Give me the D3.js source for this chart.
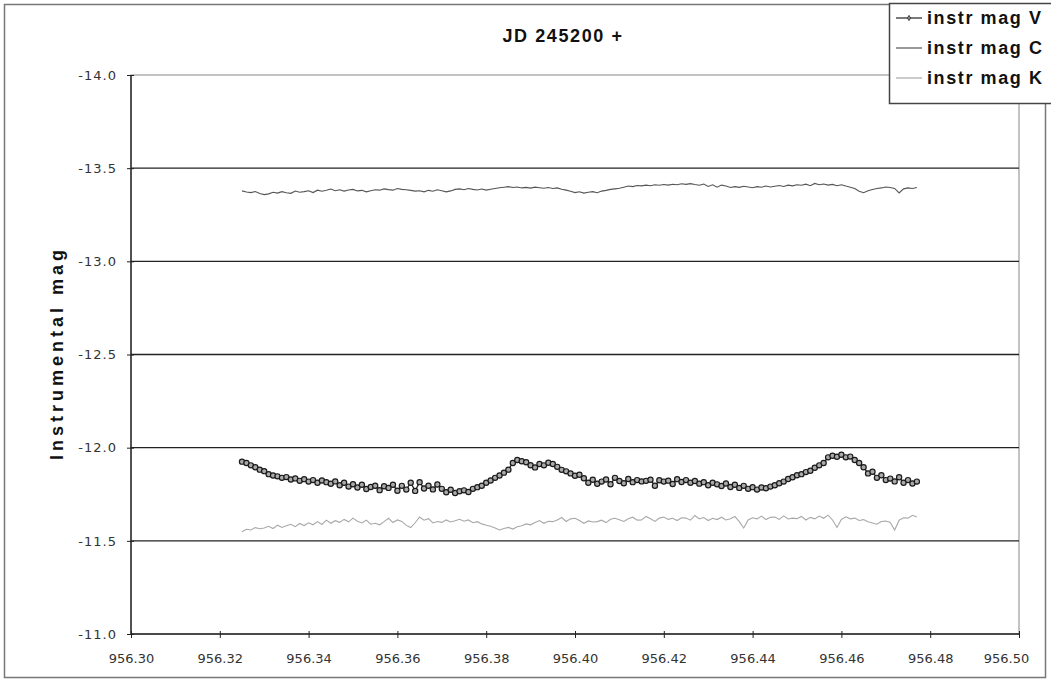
<!DOCTYPE html>
<html><head><meta charset="utf-8">
<script src="https://cdn.jsdelivr.net/npm/d3@7"></script>
<style>body{margin:0;background:#fff}svg{display:block}</style>
</head><body>
<svg id="c" width="1051" height="682"></svg>
<script>
const times = [956.325,956.326,956.327,956.328,956.329,956.330,956.331,956.332,956.333,956.334,
956.335,956.336,956.337,956.338,956.339,956.340,956.341,956.342,956.343,956.344,
956.345,956.346,956.347,956.348,956.349,956.350,956.351,956.352,956.353,956.354,
956.355,956.356,956.357,956.358,956.359,956.360,956.361,956.362,956.363,956.364,
956.365,956.366,956.367,956.368,956.369,956.370,956.371,956.372,956.373,956.374,
956.375,956.376,956.377,956.378,956.379,956.380,956.381,956.382,956.383,956.384,
956.385,956.386,956.387,956.388,956.389,956.390,956.391,956.392,956.393,956.394,
956.395,956.396,956.397,956.398,956.399,956.400,956.401,956.402,956.403,956.404,
956.405,956.406,956.407,956.408,956.409,956.410,956.411,956.412,956.413,956.414,
956.415,956.416,956.417,956.418,956.419,956.420,956.421,956.422,956.423,956.424,
956.425,956.426,956.427,956.428,956.429,956.430,956.431,956.432,956.433,956.434,
956.435,956.436,956.437,956.438,956.439,956.440,956.441,956.442,956.443,956.444,
956.445,956.446,956.447,956.448,956.449,956.450,956.451,956.452,956.453,956.454,
956.455,956.456,956.457,956.458,956.459,956.460,956.461,956.462,956.463,956.464,
956.465,956.466,956.467,956.468,956.469,956.470,956.471,956.472,956.473,956.474,
956.475,956.476,956.477];

const magV = [-11.925,-11.918,-11.905,-11.895,-11.882,-11.874,-11.858,-11.851,-11.846,-11.838,
-11.842,-11.829,-11.835,-11.822,-11.831,-11.818,-11.826,-11.812,-11.824,-11.815,
-11.806,-11.819,-11.798,-11.812,-11.791,-11.804,-11.786,-11.801,-11.778,-11.789,
-11.796,-11.772,-11.793,-11.784,-11.801,-11.769,-11.795,-11.775,-11.812,-11.768,
-11.815,-11.781,-11.796,-11.776,-11.802,-11.779,-11.761,-11.774,-11.757,-11.766,
-11.771,-11.762,-11.779,-11.788,-11.796,-11.812,-11.824,-11.838,-11.851,-11.866,
-11.882,-11.918,-11.934,-11.927,-11.922,-11.906,-11.894,-11.912,-11.905,-11.919,
-11.912,-11.897,-11.881,-11.873,-11.862,-11.849,-11.855,-11.836,-11.812,-11.828,
-11.806,-11.818,-11.829,-11.804,-11.838,-11.821,-11.809,-11.832,-11.815,-11.826,
-11.819,-11.822,-11.828,-11.796,-11.825,-11.818,-11.823,-11.805,-11.831,-11.816,
-11.826,-11.812,-11.821,-11.807,-11.815,-11.798,-11.812,-11.803,-11.794,-11.808,
-11.789,-11.801,-11.784,-11.795,-11.779,-11.788,-11.775,-11.786,-11.782,-11.791,
-11.798,-11.809,-11.818,-11.832,-11.841,-11.852,-11.858,-11.869,-11.876,-11.892,
-11.905,-11.918,-11.948,-11.957,-11.951,-11.962,-11.948,-11.952,-11.934,-11.918,
-11.895,-11.862,-11.871,-11.838,-11.852,-11.826,-11.834,-11.819,-11.841,-11.812,
-11.826,-11.808,-11.818];

const magC = [-13.378,-13.372,-13.369,-13.375,-13.364,-13.358,-13.362,-13.371,-13.366,-13.374,
-13.368,-13.365,-13.377,-13.371,-13.374,-13.379,-13.369,-13.382,-13.376,-13.381,
-13.388,-13.379,-13.384,-13.377,-13.383,-13.386,-13.378,-13.381,-13.373,-13.379,
-13.384,-13.382,-13.389,-13.385,-13.382,-13.391,-13.386,-13.384,-13.381,-13.377,
-13.379,-13.373,-13.381,-13.376,-13.384,-13.379,-13.373,-13.378,-13.386,-13.389,
-13.384,-13.391,-13.386,-13.383,-13.388,-13.382,-13.387,-13.391,-13.395,-13.398,
-13.401,-13.396,-13.399,-13.394,-13.397,-13.393,-13.398,-13.395,-13.392,-13.396,
-13.391,-13.394,-13.387,-13.382,-13.376,-13.369,-13.373,-13.366,-13.371,-13.374,
-13.368,-13.377,-13.381,-13.386,-13.389,-13.392,-13.398,-13.404,-13.401,-13.407,
-13.405,-13.409,-13.406,-13.411,-13.408,-13.412,-13.409,-13.414,-13.411,-13.416,
-13.413,-13.417,-13.412,-13.408,-13.415,-13.402,-13.411,-13.398,-13.409,-13.404,
-13.396,-13.401,-13.397,-13.403,-13.399,-13.395,-13.401,-13.398,-13.404,-13.399,
-13.403,-13.407,-13.402,-13.409,-13.405,-13.411,-13.408,-13.414,-13.406,-13.418,
-13.411,-13.415,-13.409,-13.413,-13.406,-13.411,-13.404,-13.398,-13.391,-13.376,
-13.368,-13.379,-13.386,-13.391,-13.394,-13.399,-13.396,-13.391,-13.367,-13.389,
-13.394,-13.391,-13.396];

const magK = [-11.549,-11.562,-11.558,-11.571,-11.565,-11.569,-11.578,-11.566,-11.584,-11.572,
-11.581,-11.589,-11.576,-11.593,-11.582,-11.597,-11.586,-11.603,-11.588,-11.611,
-11.594,-11.608,-11.599,-11.615,-11.602,-11.622,-11.605,-11.596,-11.611,-11.589,
-11.594,-11.586,-11.603,-11.621,-11.598,-11.612,-11.604,-11.583,-11.571,-11.597,
-11.628,-11.611,-11.619,-11.596,-11.604,-11.599,-11.612,-11.601,-11.608,-11.616,
-11.605,-11.612,-11.597,-11.603,-11.591,-11.584,-11.578,-11.569,-11.558,-11.566,
-11.572,-11.563,-11.576,-11.581,-11.591,-11.586,-11.598,-11.609,-11.594,-11.605,
-11.603,-11.612,-11.625,-11.604,-11.618,-11.621,-11.609,-11.594,-11.607,-11.601,
-11.603,-11.611,-11.598,-11.616,-11.621,-11.613,-11.604,-11.619,-11.627,-11.611,
-11.612,-11.631,-11.618,-11.604,-11.622,-11.628,-11.615,-11.621,-11.609,-11.624,
-11.622,-11.611,-11.636,-11.618,-11.625,-11.609,-11.621,-11.614,-11.627,-11.612,
-11.619,-11.631,-11.603,-11.569,-11.612,-11.624,-11.618,-11.633,-11.614,-11.626,
-11.628,-11.615,-11.634,-11.617,-11.622,-11.619,-11.631,-11.612,-11.626,-11.618,
-11.633,-11.621,-11.638,-11.612,-11.572,-11.615,-11.629,-11.618,-11.622,-11.609,
-11.614,-11.602,-11.596,-11.589,-11.604,-11.606,-11.598,-11.558,-11.611,-11.624,
-11.622,-11.637,-11.628];

const xTicks = [956.30,956.32,956.34,956.36,956.38,956.40,956.42,956.44,956.46,956.48,956.50];
const yTicks = [-14.0,-13.5,-13.0,-12.5,-12.0,-11.5,-11.0];
const seriesNames = ["instr mag V","instr mag C","instr mag K"];
const title = "JD 245200 +";
const yTitle = "Instrumental mag";

const svg = d3.select("#c");
const L = 131, R = 1019, T = 75, B = 634;
const x = d3.scaleLinear().domain([956.30, 956.50]).range([L, R]);
const y = d3.scaleLinear().domain([-14, -11]).range([T, B]);

// outer chart border
svg.append("rect").attr("x",4.5).attr("y",4.5).attr("width",1041).attr("height",673)
  .attr("fill","#fff").attr("stroke","#777").attr("stroke-width",1.5);

// plot border (top/right)
svg.append("rect").attr("x",L).attr("y",T).attr("width",R-L).attr("height",B-T)
  .attr("fill","#fff").attr("stroke","#888").attr("stroke-width",1);

// gridlines
svg.append("g").selectAll("line").data(yTicks.filter(d => d > -14 && d < -11)).join("line")
  .attr("x1",L).attr("x2",R).attr("y1",d=>y(d)).attr("y2",d=>y(d))
  .attr("stroke","#222").attr("stroke-width",1.4);

// axes
const yAxis = svg.append("g").attr("transform",`translate(${L},0)`)
  .call(d3.axisLeft(y).tickValues(yTicks).tickFormat(d => d.toFixed(1)).tickSize(4).tickPadding(10));
const xAxis = svg.append("g").attr("transform",`translate(0,${B})`)
  .call(d3.axisBottom(x).tickValues(xTicks).tickFormat(d => d.toFixed(2)).tickSize(4).tickPadding(16));
[yAxis, xAxis].forEach(a => {
  a.select(".domain").attr("stroke","#222").attr("stroke-width",1.4);
  a.selectAll(".tick line").attr("stroke","#222");
  a.selectAll(".tick text").attr("fill","#333").style("font-family","'DejaVu Sans', sans-serif").style("font-size","13px");
});
yAxis.selectAll(".tick text").style("letter-spacing","1px");
yAxis.selectAll(".tick line").attr("x1",3);
xAxis.selectAll(".tick line").attr("y1",-3);
xAxis.selectAll(".tick text").filter(d => d === 956.50).attr("dx",-13);
yAxis.select(".domain").attr("d",`M0,${T}V${B}`);
xAxis.select(".domain").attr("d",`M${L},0H${R}`);

// series
const pts = arr => times.map((t,i) => [t, arr[i]]);
const line = d3.line().x(d=>x(d[0])).y(d=>y(d[1]));
svg.append("path").datum(pts(magK)).attr("d",line).attr("fill","none").attr("stroke","#a8a8a8").attr("stroke-width",1.1);
svg.append("path").datum(pts(magC)).attr("d",line).attr("fill","none").attr("stroke","#555").attr("stroke-width",1.1);
svg.append("path").datum(pts(magV)).attr("d",line).attr("fill","none").attr("stroke","#222").attr("stroke-width",1.3);
svg.append("g").selectAll("circle").data(pts(magV)).join("circle")
  .attr("cx",d=>x(d[0])).attr("cy",d=>y(d[1])).attr("r",2.6)
  .attr("fill","#aaa").attr("stroke","#1a1a1a").attr("stroke-width",1.2);

// title
svg.append("text").attr("x",563).attr("y",42).attr("text-anchor","middle")
  .style("font-family","'Liberation Sans', Arial, sans-serif").style("font-weight","bold").style("font-size","18px")
  .style("letter-spacing","1.6px").attr("fill","#111").text(title);
svg.append("text").attr("transform","translate(63,353) rotate(-90)").attr("text-anchor","middle")
  .style("font-family","'Liberation Sans', Arial, sans-serif").style("font-weight","bold").style("font-size","18px")
  .style("letter-spacing","4px").attr("fill","#111").text(yTitle);

// legend
const lg = svg.append("g");
lg.append("rect").attr("x",889.5).attr("y",3.5).attr("width",165).attr("height",100)
  .attr("fill","#fff").attr("stroke","#444").attr("stroke-width",1.5);
const legStroke = ["#222","#555","#a8a8a8"];
seriesNames.forEach((n,i) => {
  const cy = 18 + i*30;
  lg.append("line").attr("x1",896).attr("x2",922).attr("y1",cy).attr("y2",cy).attr("stroke",legStroke[i]).attr("stroke-width",1.2);
  if (i===0) lg.append("path").attr("transform",`translate(909,${cy})`).attr("d",d3.symbol().type(d3.symbolDiamond).size(8))
    .attr("fill","#999").attr("stroke","#222").attr("stroke-width",0.8);
  lg.append("text").attr("x",927).attr("y",cy+6)
    .style("font-family","'Liberation Sans', Arial, sans-serif").style("font-weight","bold").style("font-size","18px")
    .style("letter-spacing","1.6px").attr("fill","#111").text(n);
});
</script>
</body></html>
